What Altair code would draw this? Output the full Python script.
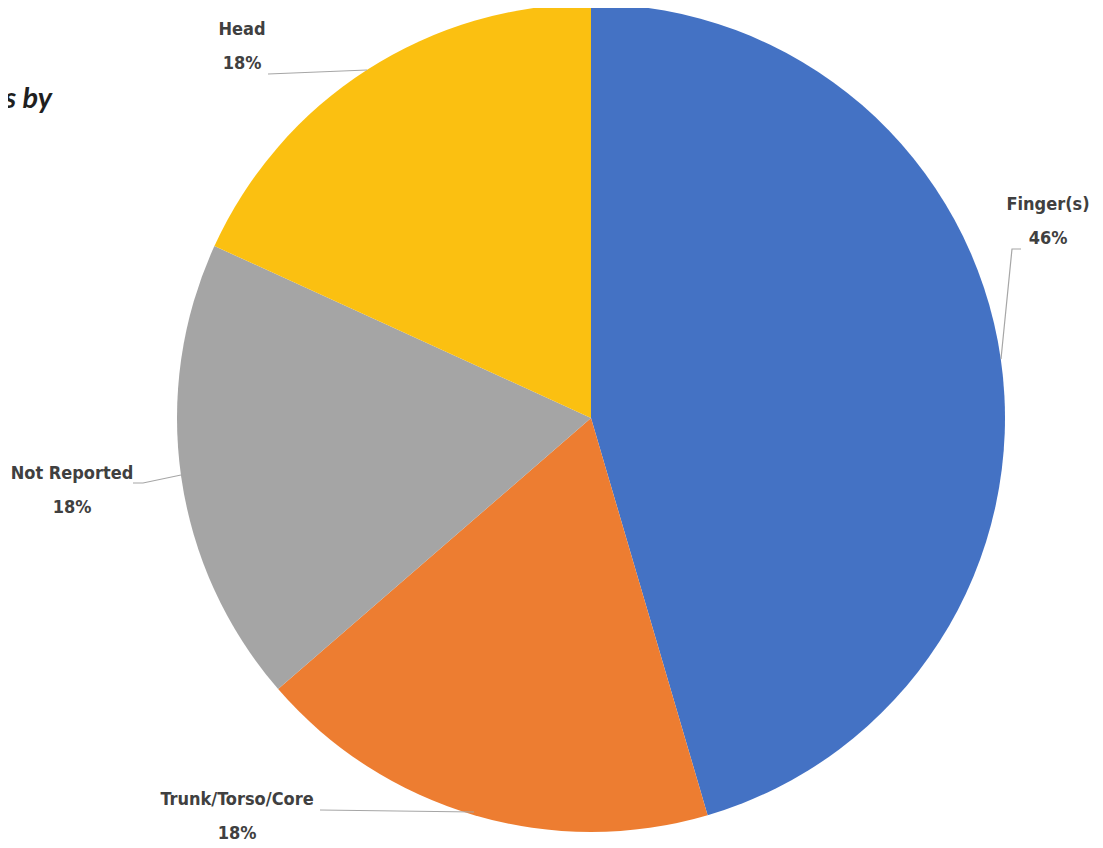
import altair as alt
import pandas as pd

# ---- data ----
categories = ["Finger(s)", "Trunk/Torso/Core", "Not Reported", "Head"]
counts = [5, 2, 2, 2]
pct_labels = ["46%", "18%", "18%", "18%"]
colors = ["#4472C4", "#ED7D31", "#A5A5A5", "#FBC011"]

# ---- layout (chart pixel coordinates, page minus 8px margin) ----
CX, CY, R = 583, 410, 414
label_pos = [(1040, 197), (229, 792), (64, 466), (234, 22)]  # centre of name line
line_gap = 34
leaders = [
    [(993, 351), (1004, 241), (1013, 241)],
    [(466, 804), (312, 802)],
    [(173, 467), (135, 475), (125, 475)],
    [(359, 62), (260, 66)],
]

FONT = "DejaVu Sans Condensed, sans-serif"

pie_df = pd.DataFrame({"category": categories, "count": counts,
                       "idx": list(range(len(categories)))})

pie = alt.Chart(pie_df).mark_arc(radius=R).encode(
    theta=alt.Theta("count:Q", stack=True),
    color=alt.Color("category:N", scale=alt.Scale(domain=categories, range=colors), legend=None),
    order=alt.Order("idx:Q"),
    x=alt.value(CX),
    y=alt.value(CY),
)

rows = []
for i, (cat, pct) in enumerate(zip(categories, pct_labels)):
    x, y = label_pos[i]
    rows.append({"t": cat, "px": x, "py": y})
    rows.append({"t": pct, "px": x, "py": y + line_gap})
lab_df = pd.DataFrame(rows)

labels = alt.Chart(lab_df).mark_text(
    font=FONT, fontWeight="bold", fontSize=18, color="#404040",
    align="center", baseline="middle"
).encode(
    x=alt.X("px:Q", scale=None, axis=None),
    y=alt.Y("py:Q", scale=None, axis=None),
    text="t:N",
)

lrows = []
for s, pts in enumerate(leaders):
    for k, (x, y) in enumerate(pts):
        lrows.append({"seg": s, "k": k, "px": x, "py": y})
lead_df = pd.DataFrame(lrows)

lead = alt.Chart(lead_df).mark_line(color="#A6A6A6", strokeWidth=1.2).encode(
    x=alt.X("px:Q", scale=None, axis=None),
    y=alt.Y("py:Q", scale=None, axis=None),
    detail="seg:N",
    order="k:Q",
)

title_df = pd.DataFrame({"t": ["s by"], "px": [44], "py": [100]})
title = alt.Chart(title_df).mark_text(
    font="Lato", fontStyle="italic", fontWeight="bold", fontSize=29, color="#1f1f1f",
    align="right", baseline="alphabetic"
).encode(
    x=alt.X("px:Q", scale=None, axis=None),
    y=alt.Y("py:Q", scale=None, axis=None),
    text="t:N",
)

chart = alt.layer(pie, lead, labels, title).properties(
    width=1087, height=832, autosize="none", padding=0
).configure_view(stroke=None)

chart.save("out.html", embed_options={"renderer": "svg", "actions": False})
